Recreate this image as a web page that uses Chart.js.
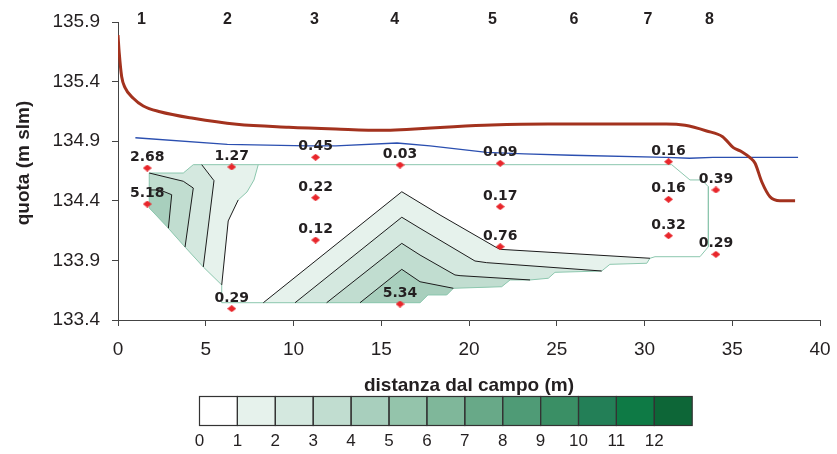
<!DOCTYPE html>
<html>
<head>
<meta charset="utf-8">
<title>Sezione trasversale</title>
<script src="https://cdn.jsdelivr.net/npm/chart.js@4.4.1/dist/chart.umd.min.js"></script>
<style>
  html, body { margin: 0; padding: 0; background: #fff; }
  #wrap { width: 837px; height: 454px; }
</style>
</head>
<body>
<div id="wrap"><canvas id="sezione" width="837" height="454"></canvas></div>
<script>
// axis ticks
const xTicks = [0, 5, 10, 15, 20, 25, 30, 35, 40];
const yTicks = [133.4, 133.9, 134.4, 134.9, 135.4, 135.9];

// verticals along the section
const sectionNames = ['1', '2', '3', '4', '5', '6', '7', '8'];
const sectionX = [1.34, 6.23, 11.2, 15.77, 21.34, 25.98, 30.2, 33.7];

// sampling points: distance (m), quota (m slm), measured value
const pointX = [1.67, 1.67, 6.48, 6.48, 11.26, 11.26, 11.26, 16.07, 16.07, 21.78, 21.78, 21.78, 31.37, 31.37, 31.37, 34.07, 34.07];
const pointY = [134.675, 134.373, 134.684, 133.495, 134.765, 134.426, 134.071, 134.7, 133.534, 134.715, 134.351, 134.015, 134.728, 134.413, 134.107, 134.491, 133.951];
const pointValues = ['2.68', '5.18', '1.27', '0.29', '0.45', '0.22', '0.12', '0.03', '5.34', '0.09', '0.17', '0.76', '0.16', '0.16', '0.32', '0.39', '0.29'];

// ground profile (m slm)
const groundX = [0, 0.07, 0.21, 0.4, 0.87, 1.44, 2.39, 4.29, 6.76, 9.73, 12.41, 15.1, 16.44, 19.13, 21.28, 24.5, 28.54, 31.23, 32.31, 33.54, 34.45, 35.06, 35.54, 36.01, 36.3, 36.68, 37.15, 37.72, 38.58];
const groundY = [135.79, 135.64, 135.44, 135.35, 135.26, 135.195, 135.147, 135.092, 135.042, 135.017, 135.002, 134.991, 134.999, 135.022, 135.036, 135.044, 135.044, 135.044, 135.033, 134.986, 134.938, 134.846, 134.812, 134.762, 134.715, 134.56, 134.434, 134.401, 134.401];

// water table (m slm)
const waterX = [0.99, 6.23, 10.8, 12.41, 15.9, 17.78, 21.01, 23.16, 25.85, 31.23, 32.57, 33.9, 38.75];
const waterY = [134.929, 134.874, 134.86, 134.86, 134.885, 134.86, 134.807, 134.793, 134.782, 134.765, 134.757, 134.765, 134.765];

// interpolated domain
const domain = [[1.78, 134.633], [3.72, 134.633], [4.29, 134.703], [31.55, 134.703], [32.59, 134.575], [33.26, 134.575], [33.64, 134.518], [33.64, 134.015], [33.16, 133.931], [30.6, 133.931], [30.31, 133.918], [30.13, 133.876], [28.03, 133.867], [27.56, 133.811], [24.9, 133.8], [24.52, 133.75], [23.48, 133.736], [22.34, 133.736], [21.86, 133.679], [19.11, 133.666], [18.73, 133.61], [17.66, 133.61], [17.21, 133.545], [5.91, 133.545], [5.91, 133.694], [4.86, 133.845], [3.82, 134.012], [2.77, 134.186], [1.78, 134.34], [1.78, 134.633]];

// contour zones near section 1-2
const leftZone1 = [[1.78, 134.633], [3.72, 134.633], [4.29, 134.703], [7.99, 134.703], [7.75, 134.575], [7.35, 134.474], [6.85, 134.407], [6.44, 134.281], [6.28, 134.231], [5.91, 133.694], [4.86, 133.845], [3.82, 134.012], [2.77, 134.186], [1.78, 134.34]];
const leftZone2 = [[1.78, 134.633], [3.72, 134.633], [4.29, 134.703], [4.77, 134.703], [5.47, 134.569], [4.86, 133.845], [3.82, 134.012], [2.77, 134.186], [1.78, 134.34]];
const leftZone3 = [[1.78, 134.633], [3.72, 134.564], [4.29, 134.507], [3.82, 134.012], [2.77, 134.186], [1.78, 134.34]];
const leftZone4 = [[1.78, 134.491], [2.39, 134.491], [3.06, 134.451], [2.87, 134.17], [1.78, 134.34]];
const leftRim = [[7.99, 134.703], [7.75, 134.575], [7.35, 134.474], [6.85, 134.407]];
const leftIso1 = [[6.85, 134.407], [6.44, 134.281], [6.28, 134.231], [5.91, 133.694]];
const leftIso2 = [[4.77, 134.703], [5.47, 134.569], [4.86, 133.845]];
const leftIso3 = [[1.78, 134.633], [3.72, 134.564], [4.29, 134.507], [3.82, 134.012]];
const leftIso4 = [[1.78, 134.491], [2.39, 134.491], [3.06, 134.451], [2.87, 134.17]];

// contour zones under sections 3-7
const midIso1 = [[8.28, 133.545], [16.17, 134.476], [18.35, 134.281], [21.48, 134.015], [21.77, 133.993], [30.31, 133.918]];
const midIso2 = [[10.09, 133.545], [16.17, 134.262], [17.21, 134.169], [20.34, 133.895], [21.01, 133.881], [27.56, 133.811]];
const midIso3 = [[11.89, 133.545], [16.17, 134.043], [17.21, 133.945], [19.2, 133.778], [19.49, 133.772], [23.48, 133.736]];
const midIso4 = [[13.79, 133.545], [16.17, 133.825], [17.21, 133.721], [19.11, 133.666]];
const midStep1 = [[30.13, 133.876], [28.03, 133.867], [27.56, 133.811]];
const midStep2 = [[24.9, 133.8], [24.52, 133.75], [23.48, 133.736]];
const midStep3 = [[22.34, 133.736], [21.86, 133.679], [19.11, 133.666]];
const midStep4 = [[18.73, 133.61], [17.66, 133.61], [17.21, 133.545]];

// legend classes
const legendLevels = [0, 1, 2, 3, 4, 5, 6, 7, 8, 9, 10, 11, 12];
const legendColors = ['#ffffff', '#e6f2ec', '#d4e8df', '#c1ddd0', '#a8cfbd', '#94c4ab', '#7fb79a', '#68a988', '#4f9b76', '#3a8f65', '#237f57', '#0e7a45', '#0d6637'];

const midZone1 = midIso1.concat(midStep1, midStep2, midStep3, midStep4);
const midZone2 = midIso2.concat(midStep2, midStep3, midStep4);
const midZone3 = midIso3.concat(midStep3, midStep4);
const midZone4 = midIso4.concat(midStep4);

const textColor = '#231f20';
const sans = "'Liberation Sans', Arial, sans-serif";

const toXY = list => list.map(([x, y]) => ({ x, y }));

function zone(points, color) {
  return {
    data: toXY(points), fill: 'shape', backgroundColor: color,
    borderColor: 'rgba(0,0,0,0)', borderWidth: 1, pointRadius: 0, tension: 0
  };
}

function line(points, color, width) {
  return {
    data: toXY(points), fill: false, borderColor: color,
    borderWidth: width, pointRadius: 0, tension: 0
  };
}

// small red diamond used as marker
const diamond = document.createElement('canvas');
diamond.width = 9;
diamond.height = 7;
const dctx = diamond.getContext('2d');
dctx.fillStyle = '#e8262b';
dctx.beginPath();
dctx.moveTo(4.5, 0);
dctx.lineTo(9, 3.5);
dctx.lineTo(4.5, 7);
dctx.lineTo(0, 3.5);
dctx.closePath();
dctx.fill();

const isoColor = '#1c1c1c';
const rimColor = '#8cc7ae';

// listed bottom to top
const layers = [
  zone(domain, '#ffffff'),
  zone(leftZone1, legendColors[1]),
  zone(leftZone2, legendColors[2]),
  zone(leftZone3, legendColors[3]),
  zone(leftZone4, legendColors[4]),
  zone(midZone1, legendColors[1]),
  zone(midZone2, legendColors[2]),
  zone(midZone3, legendColors[3]),
  zone(midZone4, legendColors[4]),
  line(domain, rimColor, 1),
  line(leftRim, rimColor, 1),
  line(leftIso1, isoColor, 1),
  line(leftIso2, isoColor, 1),
  line(leftIso3, isoColor, 1),
  line(leftIso4, isoColor, 1),
  line(midIso1, isoColor, 1),
  line(midIso2, isoColor, 1),
  line(midIso3, isoColor, 1),
  line(midIso4, isoColor, 1),
  {
    data: waterX.map((x, i) => ({ x, y: waterY[i] })),
    fill: false, borderColor: '#2b4fb0', borderWidth: 1.3, pointRadius: 0, tension: 0
  },
  {
    data: groundX.map((x, i) => ({ x, y: groundY[i] })),
    fill: false, borderColor: '#a3321e', borderWidth: 3, pointRadius: 0,
    cubicInterpolationMode: 'monotone'
  },
  {
    data: pointX.map((x, i) => ({ x, y: pointY[i] })),
    showLine: false, pointStyle: diamond, pointRadius: 4, pointHoverRadius: 4
  }
];
layers.forEach((ds, i) => { ds.order = layers.length - i; });
const markerIndex = layers.length - 1;

const annotations = {
  id: 'annotations',
  afterDatasetsDraw(chart) {
    const ctx = chart.ctx;
    const meta = chart.getDatasetMeta(markerIndex);
    ctx.save();
    ctx.fillStyle = textColor;
    ctx.font = "bold 14px 'DejaVu Sans', sans-serif";
    ctx.textAlign = 'center';
    ctx.textBaseline = 'alphabetic';
    meta.data.forEach((pt, i) => {
      ctx.fillText(pointValues[i], pt.x, pt.y - 7);
    });
    ctx.restore();
  },
  afterDraw(chart) {
    const ctx = chart.ctx;
    const xs = chart.scales.x;
    ctx.save();
    ctx.fillStyle = textColor;

    // section numbers along the top
    ctx.font = 'bold 16px ' + sans;
    ctx.textAlign = 'center';
    ctx.textBaseline = 'middle';
    sectionNames.forEach((name, i) => {
      ctx.fillText(name, xs.getPixelForValue(sectionX[i]), 20);
    });

    // y axis title
    ctx.save();
    ctx.translate(24, 163);
    ctx.rotate(-Math.PI / 2);
    ctx.font = 'bold 19px ' + sans;
    ctx.fillText('quota (m slm)', 0, 0);
    ctx.restore();

    // colour scale
    const left = 199.5, top = 396.5, w = 37.9, h = 29;
    legendColors.forEach((c, i) => {
      ctx.fillStyle = c;
      ctx.fillRect(left + i * w, top, w, h);
    });
    ctx.strokeStyle = '#333';
    ctx.lineWidth = 1.2;
    legendColors.forEach((c, i) => {
      ctx.strokeRect(left + i * w, top, w, h);
    });
    ctx.fillStyle = textColor;
    ctx.font = '17px ' + sans;
    ctx.textBaseline = 'middle';
    legendLevels.forEach((lv, i) => {
      ctx.fillText(String(lv), left + i * w, 441);
    });
    ctx.restore();
  }
};

new Chart(document.getElementById('sezione'), {
  type: 'line',
  data: { datasets: layers },
  plugins: [annotations],
  options: {
    responsive: false,
    devicePixelRatio: 1,
    animation: false,
    events: [],
    layout: { padding: { top: 22, right: 17, left: 0, bottom: 0 } },
    plugins: {
      legend: { display: false },
      tooltip: { enabled: false }
    },
    scales: {
      x: {
        type: 'linear',
        min: 0,
        max: 40,
        afterBuildTicks: scale => { scale.ticks = xTicks.map(value => ({ value })); },
        afterFit: scale => {
          scale.height = 134;
          scale.paddingLeft = 0;
          scale.paddingRight = 0;
        },
        ticks: { color: textColor, font: { family: sans, size: 19 }, padding: 12, maxRotation: 0 },
        grid: { drawOnChartArea: false, drawTicks: true, tickLength: 6, color: '#444' },
        border: { color: '#444', width: 1 },
        title: {
          display: true,
          text: 'distanza dal campo (m)',
          color: textColor,
          font: { family: sans, size: 19, weight: 'bold' },
          padding: { top: 0, bottom: 57 }
        }
      },
      y: {
        type: 'linear',
        min: 133.4,
        max: 135.9,
        afterBuildTicks: scale => { scale.ticks = yTicks.map(value => ({ value })); },
        afterFit: scale => {
          scale.width = 118;
          scale.paddingTop = 0;
          scale.paddingBottom = 0;
        },
        ticks: { color: textColor, font: { family: sans, size: 19 }, padding: 12, callback: v => v.toFixed(1) },
        grid: { drawOnChartArea: false, drawTicks: true, tickLength: 6, color: '#444' },
        border: { color: '#444', width: 1 }
      }
    }
  }
});
</script>
</body>
</html>
